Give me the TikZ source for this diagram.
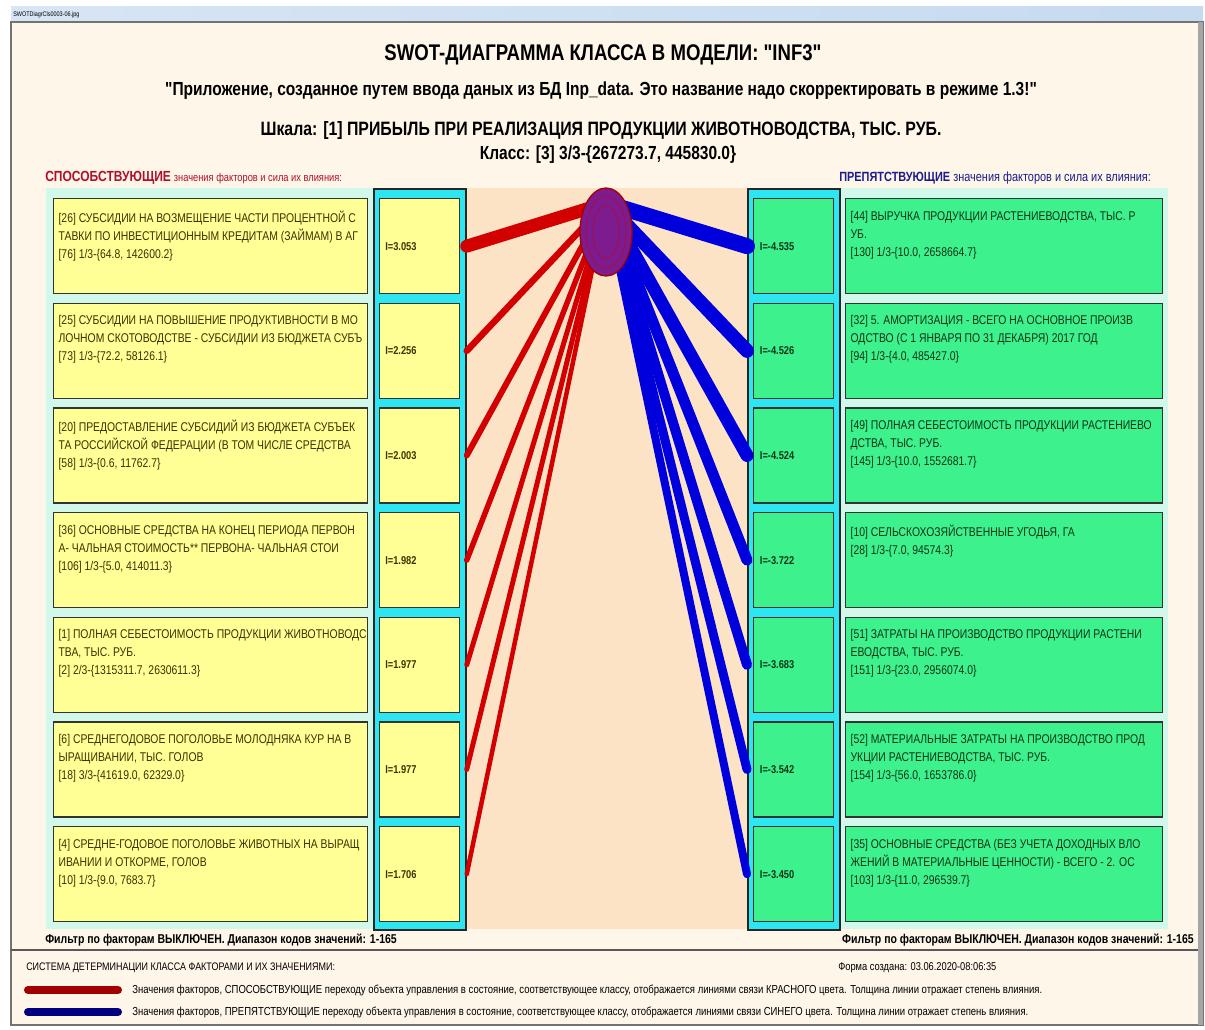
\documentclass[tikz,border=0pt]{standalone}
\usepackage{fontspec}
\setmainfont[FakeStretch=0.82, Ligatures=TeXOff]{Liberation Sans}
\usetikzlibrary{positioning,shapes.geometric}
\definecolor{cream}{HTML}{FDF6E9}
\definecolor{peach}{HTML}{FCE3C6}
\definecolor{mint}{HTML}{D2F8EC}
\definecolor{boxyellow}{HTML}{FFFF96}
\definecolor{boxgreen}{HTML}{3DF28C}
\definecolor{framecyan}{HTML}{2EE6F2}
\definecolor{linkred}{HTML}{D20000}
\definecolor{linkblue}{HTML}{0000DC}
\definecolor{legred}{HTML}{A00000}
\definecolor{legblue}{HTML}{000080}
\definecolor{hdrred}{HTML}{B0102A}
\definecolor{hdrblue}{HTML}{1C1C8C}
\definecolor{ltext}{HTML}{3A3300}
\definecolor{rtext}{HTML}{0E3418}
\definecolor{hubfill}{HTML}{7C1C8E}
\definecolor{barblue}{HTML}{C6DAF0}

\begin{document}
\begin{tikzpicture}[x=0.75pt, y=-0.75pt,
  lbox/.style={rectangle, draw=black!80, line width=1pt, fill=boxyellow, inner sep=0pt, minimum width=235.5pt, minimum height=71.25pt, anchor=north west},
  rbox/.style={rectangle, draw=black!80, line width=1pt, fill=boxgreen, inner sep=0pt, minimum width=237.75pt, minimum height=71.25pt, anchor=north west},
  libox/.style={rectangle, draw=black!80, line width=1pt, fill=boxyellow, inner sep=0pt, minimum width=60pt, minimum height=71.25pt, anchor=north west},
  ribox/.style={rectangle, draw=black!80, line width=1pt, fill=boxgreen, inner sep=0pt, minimum width=60pt, minimum height=71.25pt, anchor=north west},
  iframe/.style={rectangle, draw=black!85, line width=1.3pt, fill=framecyan, inner sep=0pt, minimum width=69pt, minimum height=555.75pt, anchor=north west},
  boxtext/.style={below right, inner sep=0pt, xshift=4pt, yshift=-9.5pt, align=left, font=\fontsize{9.5}{13.5}\selectfont},
  itext/.style={anchor=west, inner sep=0pt, font=\bfseries\fontsize{8.5}{9}\selectfont},
  redlink/.style={draw=linkred, line cap=round},
  bluelink/.style={draw=linkblue, line cap=round}]
\useasboundingbox (0,0) rectangle (1205,1030);
\fill[white] (0,0) rectangle (1205,1030);

% window
\shade[left color=barblue!70!white, right color=barblue] (11,7) rectangle (1203,22);
\node [anchor=west, inner sep=0pt, font=\fontsize{5}{6}\selectfont] at (13,14.5) {SWOTDiagrCls0003-06.jpg};
\filldraw[fill=cream, draw=black!55, line width=0.8pt] (11,22) rectangle (1203,1025);
\fill[black!35] (1198,22) rectangle (1203,1025);
\draw[black!65, line width=1.2pt] (11,950) -- (1198,950);

% titles
\node (title) [font=\bfseries\fontsize{17}{20}\selectfont] at (603,55) {SWOT-ДИАГРАММА КЛАССА В МОДЕЛИ: "INF3"};
\node (subtitle) [font=\bfseries\fontsize{14.2}{16}\selectfont] at (601,91) {"Приложение, созданное путем ввода даных из БД Inp\_data. Это название надо скорректировать в режиме 1.3!"};
\node (scale) [font=\bfseries\fontsize{14.5}{16}\selectfont] at (601,131) {Шкала: [1] ПРИБЫЛЬ ПРИ РЕАЛИЗАЦИЯ ПРОДУКЦИИ ЖИВОТНОВОДСТВА, ТЫС. РУБ.};
\node (class) [font=\bfseries\fontsize{14.2}{16}\selectfont] at (608,155) {Класс: [3] 3/3-\{267273.7, 445830.0\}};

\node (hdrL) [anchor=west, inner sep=0pt, text=hdrred] at (45,178) {{\bfseries\fontsize{11}{13}\selectfont СПОСОБСТВУЮЩИЕ} {\fontsize{8.5}{10}\selectfont значения факторов и сила их влияния:}};
\node (hdrR) [anchor=west, inner sep=0pt, text=hdrblue] at (839,178) {{\bfseries\fontsize{10}{13}\selectfont ПРЕПЯТСТВУЮЩИЕ} {\fontsize{10}{11}\selectfont значения факторов и сила их влияния:}};

% panels
\node (panelL) [rectangle, fill=mint, inner sep=0pt, minimum width=245.25pt, minimum height=555.75pt, anchor=north west] at (46,188) {};
\node (panelR) [rectangle, fill=mint, inner sep=0pt, minimum width=247.5pt, minimum height=555.75pt, anchor=north west] at (838,188) {};
\node (middle) [rectangle, fill=peach, inner sep=0pt, minimum width=211.5pt, minimum height=555.75pt, anchor=north west] at (465,188) {};
\node (frameL) [iframe] at (373,188) {};
\node (frameR) [iframe] at (747,188) {};

% left factors
\node (boxL1) [lbox] at (53,198) {};
\node [boxtext, text=ltext] at (boxL1.north west) {[26] СУБСИДИИ НА ВОЗМЕЩЕНИЕ ЧАСТИ ПРОЦЕНТНОЙ С\\ТАВКИ ПО ИНВЕСТИЦИОННЫМ КРЕДИТАМ (ЗАЙМАМ) В АГ\\{}[76] 1/3-\{64.8, 142600.2\}};
\node (boxL2) [lbox] at (53,302.7) {};
\node [boxtext, text=ltext] at (boxL2.north west) {[25] СУБСИДИИ НА ПОВЫШЕНИЕ ПРОДУКТИВНОСТИ В МО\\ЛОЧНОМ СКОТОВОДСТВЕ - СУБСИДИИ ИЗ БЮДЖЕТА СУБЪ\\{}[73] 1/3-\{72.2, 58126.1\}};
\node (boxL3) [lbox] at (53,407.3) {};
\node [boxtext, text=ltext] at (boxL3.north west) {[20] ПРЕДОСТАВЛЕНИЕ СУБСИДИЙ ИЗ БЮДЖЕТА СУБЪЕК\\ТА РОССИЙСКОЙ ФЕДЕРАЦИИ (В ТОМ ЧИСЛЕ СРЕДСТВА\\{}[58] 1/3-\{0.6, 11762.7\}};
\node (boxL4) [lbox] at (53,512) {};
\node [boxtext, text=ltext] at (boxL4.north west) {[36] ОСНОВНЫЕ СРЕДСТВА НА КОНЕЦ ПЕРИОДА ПЕРВОН\\А- ЧАЛЬНАЯ СТОИМОСТЬ** ПЕРВОНА- ЧАЛЬНАЯ СТОИ\\{}[106] 1/3-\{5.0, 414011.3\}};
\node (boxL5) [lbox] at (53,616.7) {};
\node [boxtext, text=ltext] at (boxL5.north west) {[1] ПОЛНАЯ СЕБЕСТОИМОСТЬ ПРОДУКЦИИ ЖИВОТНОВОДС\\ТВА, ТЫС. РУБ.\\{}[2] 2/3-\{1315311.7, 2630611.3\}};
\node (boxL6) [lbox] at (53,721.3) {};
\node [boxtext, text=ltext] at (boxL6.north west) {[6] СРЕДНЕГОДОВОЕ ПОГОЛОВЬЕ МОЛОДНЯКА КУР НА В\\ЫРАЩИВАНИИ, ТЫС. ГОЛОВ\\{}[18] 3/3-\{41619.0, 62329.0\}};
\node (boxL7) [lbox] at (53,826) {};
\node [boxtext, text=ltext] at (boxL7.north west) {[4] СРЕДНЕ-ГОДОВОЕ ПОГОЛОВЬЕ ЖИВОТНЫХ НА ВЫРАЩ\\ИВАНИИ И ОТКОРМЕ, ГОЛОВ\\{}[10] 1/3-\{9.0, 7683.7\}};

% left influence
\node (iL1) [libox] at (379,198) {};
\node [itext, text=ltext, xshift=4.5pt] at (iL1.west) {I=3.053};
\node (iL2) [libox] at (379,302.7) {};
\node [itext, text=ltext, xshift=4.5pt] at (iL2.west) {I=2.256};
\node (iL3) [libox] at (379,407.3) {};
\node [itext, text=ltext, xshift=4.5pt] at (iL3.west) {I=2.003};
\node (iL4) [libox] at (379,512) {};
\node [itext, text=ltext, xshift=4.5pt] at (iL4.west) {I=1.982};
\node (iL5) [libox] at (379,616.7) {};
\node [itext, text=ltext, xshift=4.5pt] at (iL5.west) {I=1.977};
\node (iL6) [libox] at (379,721.3) {};
\node [itext, text=ltext, xshift=4.5pt] at (iL6.west) {I=1.977};
\node (iL7) [libox] at (379,826) {};
\node [itext, text=ltext, xshift=4.5pt] at (iL7.west) {I=1.706};

% right influence
\node (iR1) [ribox] at (753,198) {};
\node [itext, text=rtext, xshift=5pt] at (iR1.west) {I=-4.535};
\node (iR2) [ribox] at (753,302.7) {};
\node [itext, text=rtext, xshift=5pt] at (iR2.west) {I=-4.526};
\node (iR3) [ribox] at (753,407.3) {};
\node [itext, text=rtext, xshift=5pt] at (iR3.west) {I=-4.524};
\node (iR4) [ribox] at (753,512) {};
\node [itext, text=rtext, xshift=5pt] at (iR4.west) {I=-3.722};
\node (iR5) [ribox] at (753,616.7) {};
\node [itext, text=rtext, xshift=5pt] at (iR5.west) {I=-3.683};
\node (iR6) [ribox] at (753,721.3) {};
\node [itext, text=rtext, xshift=5pt] at (iR6.west) {I=-3.542};
\node (iR7) [ribox] at (753,826) {};
\node [itext, text=rtext, xshift=5pt] at (iR7.west) {I=-3.450};

% right factors
\node (boxR1) [rbox] at (845,198) {};
\node [boxtext, text=rtext] at (boxR1.north west) {[44] ВЫРУЧКА ПРОДУКЦИИ РАСТЕНИЕВОДСТВА, ТЫС. Р\\УБ.\\{}[130] 1/3-\{10.0, 2658664.7\}};
\node (boxR2) [rbox] at (845,302.7) {};
\node [boxtext, text=rtext] at (boxR2.north west) {[32] 5. АМОРТИЗАЦИЯ - ВСЕГО НА ОСНОВНОЕ ПРОИЗВ\\ОДСТВО (С 1 ЯНВАРЯ ПО 31 ДЕКАБРЯ) 2017 ГОД\\{}[94] 1/3-\{4.0, 485427.0\}};
\node (boxR3) [rbox] at (845,407.3) {};
\node [boxtext, text=rtext] at (boxR3.north west) {[49] ПОЛНАЯ СЕБЕСТОИМОСТЬ ПРОДУКЦИИ РАСТЕНИЕВО\\ДСТВА, ТЫС. РУБ.\\{}[145] 1/3-\{10.0, 1552681.7\}};
\node (boxR4) [rbox] at (845,512) {};
\node [boxtext, text=rtext] at (boxR4.north west) {[10] СЕЛЬСКОХОЗЯЙСТВЕННЫЕ УГОДЬЯ, ГА\\{}[28] 1/3-\{7.0, 94574.3\}};
\node (boxR5) [rbox] at (845,616.7) {};
\node [boxtext, text=rtext] at (boxR5.north west) {[51] ЗАТРАТЫ НА ПРОИЗВОДСТВО ПРОДУКЦИИ РАСТЕНИ\\ЕВОДСТВА, ТЫС. РУБ.\\{}[151] 1/3-\{23.0, 2956074.0\}};
\node (boxR6) [rbox] at (845,721.3) {};
\node [boxtext, text=rtext] at (boxR6.north west) {[52] МАТЕРИАЛЬНЫЕ ЗАТРАТЫ НА ПРОИЗВОДСТВО ПРОД\\УКЦИИ РАСТЕНИЕВОДСТВА, ТЫС. РУБ.\\{}[154] 1/3-\{56.0, 1653786.0\}};
\node (boxR7) [rbox] at (845,826) {};
\node [boxtext, text=rtext] at (boxR7.north west) {[35] ОСНОВНЫЕ СРЕДСТВА (БЕЗ УЧЕТА ДОХОДНЫХ ВЛО\\ЖЕНИЙ В МАТЕРИАЛЬНЫЕ ЦЕННОСТИ) - ВСЕГО - 2. ОС\\{}[103] 1/3-\{11.0, 296539.7\}};

% links
\coordinate (hub) at (606,203);
\draw [redlink, line width=9.75pt] (hub) -- (iL1.east -| frameL.east);
\draw [redlink, line width=4.9pt] (hub) -- (iL2.east -| frameL.east);
\draw [redlink, line width=4.5pt] (hub) -- (iL3.east -| frameL.east);
\draw [redlink, line width=4.1pt] (hub) -- (iL4.east -| frameL.east);
\draw [redlink, line width=3.75pt] (hub) -- (iL5.east -| frameL.east);
\draw [redlink, line width=3.75pt] (hub) -- (iL6.east -| frameL.east);
\draw [redlink, line width=3.4pt] (hub) -- (iL7.east -| frameL.east);
\draw [bluelink, line width=12pt] (hub) -- (iR1.west -| frameR.west);
\draw [bluelink, line width=10.5pt] (hub) -- (iR2.west -| frameR.west);
\draw [bluelink, line width=9.75pt] (hub) -- (iR3.west -| frameR.west);
\draw [bluelink, line width=8.25pt] (hub) -- (iR4.west -| frameR.west);
\draw [bluelink, line width=7.5pt] (hub) -- (iR5.west -| frameR.west);
\draw [bluelink, line width=6.75pt] (hub) -- (iR6.west -| frameR.west);
\draw [bluelink, line width=6pt] (hub) -- (iR7.west -| frameR.west);
\node (cls) [ellipse, fill=hubfill, draw=linkred!80!black, line width=1pt, minimum width=39pt, minimum height=66pt, inner sep=0pt] at (606,232) {};
\node (clsA) [ellipse, draw=linkred!60!hubfill, line width=0.5pt, minimum width=30pt, minimum height=54pt, inner sep=0pt] at (cls.center) {};
\node (clsB) [ellipse, draw=linkred!60!hubfill, line width=0.5pt, minimum width=20pt, minimum height=40pt, inner sep=0pt] at (cls.center) {};

% footer
\node (filterL) [anchor=west, inner sep=0pt, font=\bfseries\fontsize{9.6}{11}\selectfont] at (45,940) {Фильтр по факторам ВЫКЛЮЧЕН. Диапазон кодов значений: 1-165};
\node (filterR) [anchor=east, inner sep=0pt, font=\bfseries\fontsize{9.6}{11}\selectfont] at (1194,940) {Фильтр по факторам ВЫКЛЮЧЕН. Диапазон кодов значений: 1-165};
\node (system) [anchor=west, inner sep=0pt, font=\fontsize{8.2}{10}\selectfont] at (26,968) {СИСТЕМА ДЕТЕРМИНАЦИИ КЛАССА ФАКТОРАМИ И ИХ ЗНАЧЕНИЯМИ:};
\node (form) [anchor=west, inner sep=0pt, font=\fontsize{8.5}{10}\selectfont] at (838,968) {Форма создана: 03.06.2020-08:06:35};

% legend
\coordinate (legR0) at (28,990);
\coordinate (legR1) at (118,990);
\coordinate (legB0) at (28,1012);
\coordinate (legB1) at (118,1012);
\draw [draw=legred, line width=6pt, line cap=round] (legR0) -- (legR1);
\draw [draw=legblue, line width=6pt, line cap=round] (legB0) -- (legB1);
\node (legRtext) [anchor=west, inner sep=0pt, font=\fontsize{8.7}{10}\selectfont] at (132,990) {Значения факторов, СПОСОБСТВУЮЩИЕ переходу объекта управления в состояние, соответствующее классу, отображается линиями связи КРАСНОГО цвета. Толщина линии отражает степень влияния.};
\node (legBtext) [anchor=west, inner sep=0pt, font=\fontsize{8.7}{10}\selectfont] at (132,1012) {Значения факторов, ПРЕПЯТСТВУЮЩИЕ переходу объекта управления в состояние, соответствующее классу, отображается линиями связи СИНЕГО цвета. Толщина линии отражает степень влияния.};
\end{tikzpicture}
\end{document}
